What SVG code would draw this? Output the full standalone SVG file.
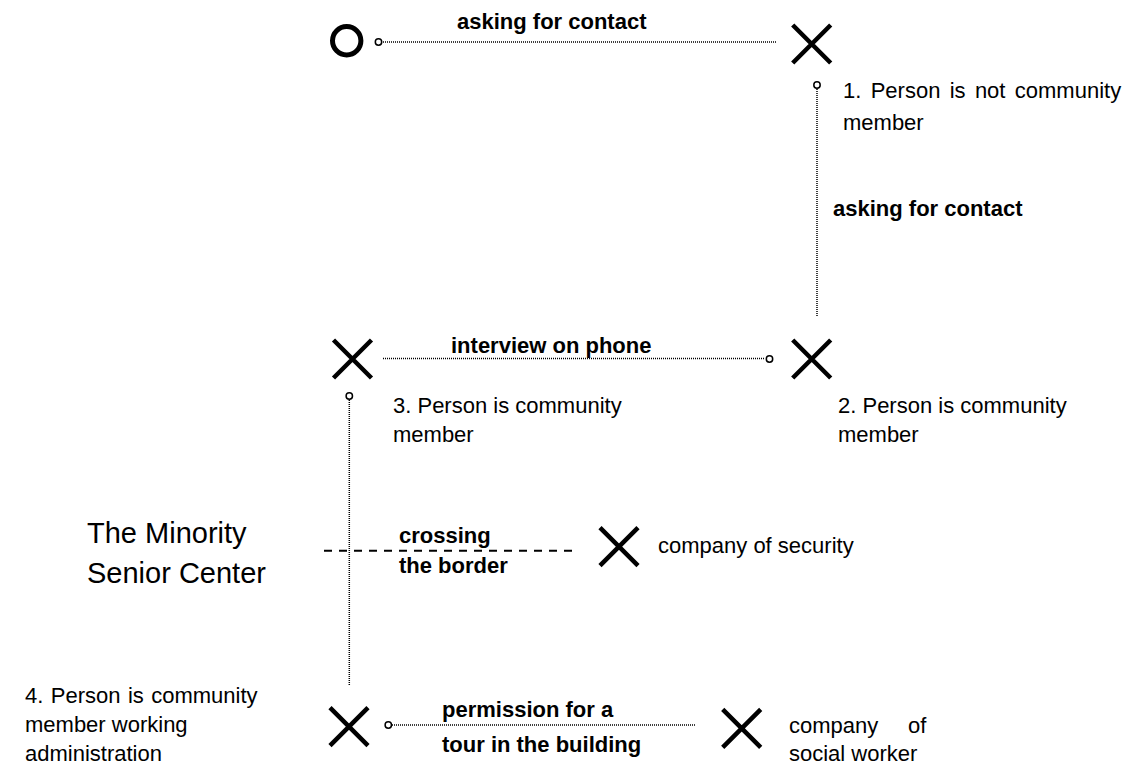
<svg xmlns="http://www.w3.org/2000/svg" width="1140" height="764" viewBox="0 0 1140 764">
<style>
text{font-family:"Liberation Sans",Arial,Helvetica,sans-serif;fill:#000}
.n{font-size:22px}
.b{font-size:22px;font-weight:bold}
.big{font-size:29px}
.x{stroke:#000;stroke-width:4.5;fill:none}
.dot{stroke:#000;stroke-width:1.5;stroke-dasharray:1 1;fill:none}
.dash{stroke:#000;stroke-width:2;stroke-dasharray:8 7;fill:none}
.end{stroke:#000;stroke-width:1.5;fill:#fff}
</style>
<defs>
<path id="cross" d="M-19,-19 L19,19 M19,-19 L-19,19"/>
</defs>
<rect width="1140" height="764" fill="#fff"/>
<g id="connectors">
<line class="dot" x1="383" y1="42" x2="777" y2="42"/>
<circle class="end" cx="378.5" cy="42" r="3.2"/>
<line class="dot" x1="817" y1="89" x2="817" y2="317"/>
<circle class="end" cx="817" cy="85" r="3.2"/>
<line class="dot" x1="383" y1="358.5" x2="765" y2="358.5"/>
<circle class="end" cx="769.5" cy="359" r="3.2"/>
<line class="dot" x1="349.3" y1="400" x2="349.3" y2="685"/>
<circle class="end" cx="349.3" cy="396" r="3.2"/>
<line class="dash" x1="324" y1="550.7" x2="572" y2="550.7"/>
<line class="dot" x1="392" y1="725" x2="695" y2="725"/>
<circle class="end" cx="388.3" cy="725" r="3.2"/>
<text class="b" x="457" y="29">asking for contact</text>
<text class="b" x="833" y="216">asking for contact</text>
<text class="b" x="451" y="353">interview on phone</text>
<text class="b" x="399" y="543">crossing</text>
<text class="b" x="399" y="573">the border</text>
<text class="b" x="442" y="717">permission for a</text>
<text class="b" x="442" y="752">tour in the building</text>
</g>
<g id="start"><circle cx="346.7" cy="40.7" r="14.2" stroke="#000" stroke-width="5" fill="none"/></g>
<g id="p1"><use href="#cross" class="x" transform="translate(811.7,44)"/>
<text class="n" x="843" y="98" word-spacing="3.2">1. Person is not community</text>
<text class="n" x="843" y="130">member</text></g>
<g id="p2"><use href="#cross" class="x" transform="translate(811.7,359)"/>
<text class="n" x="838" y="413">2. Person is community</text>
<text class="n" x="838" y="442">member</text></g>
<g id="p3"><use href="#cross" class="x" transform="translate(352.5,359)"/>
<text class="n" x="393" y="413">3. Person is community</text>
<text class="n" x="393" y="442">member</text></g>
<g id="center"><text class="big" x="87" y="543">The Minority</text>
<text class="big" x="87" y="583">Senior Center</text></g>
<g id="security"><use href="#cross" class="x" transform="translate(619,546.7)"/>
<text class="n" x="658" y="553">company of security</text></g>
<g id="p4"><use href="#cross" class="x" transform="translate(349,726.7)"/>
<text class="n" x="25" y="703" word-spacing="1.3">4. Person is community</text>
<text class="n" x="25" y="732">member working</text>
<text class="n" x="25" y="761">administration</text></g>
<g id="social"><use href="#cross" class="x" transform="translate(741.7,728.3)"/>
<text class="n" x="789" y="733">company</text>
<text class="n" x="908" y="733">of</text>
<text class="n" x="789" y="761">social worker</text></g>
</svg>
